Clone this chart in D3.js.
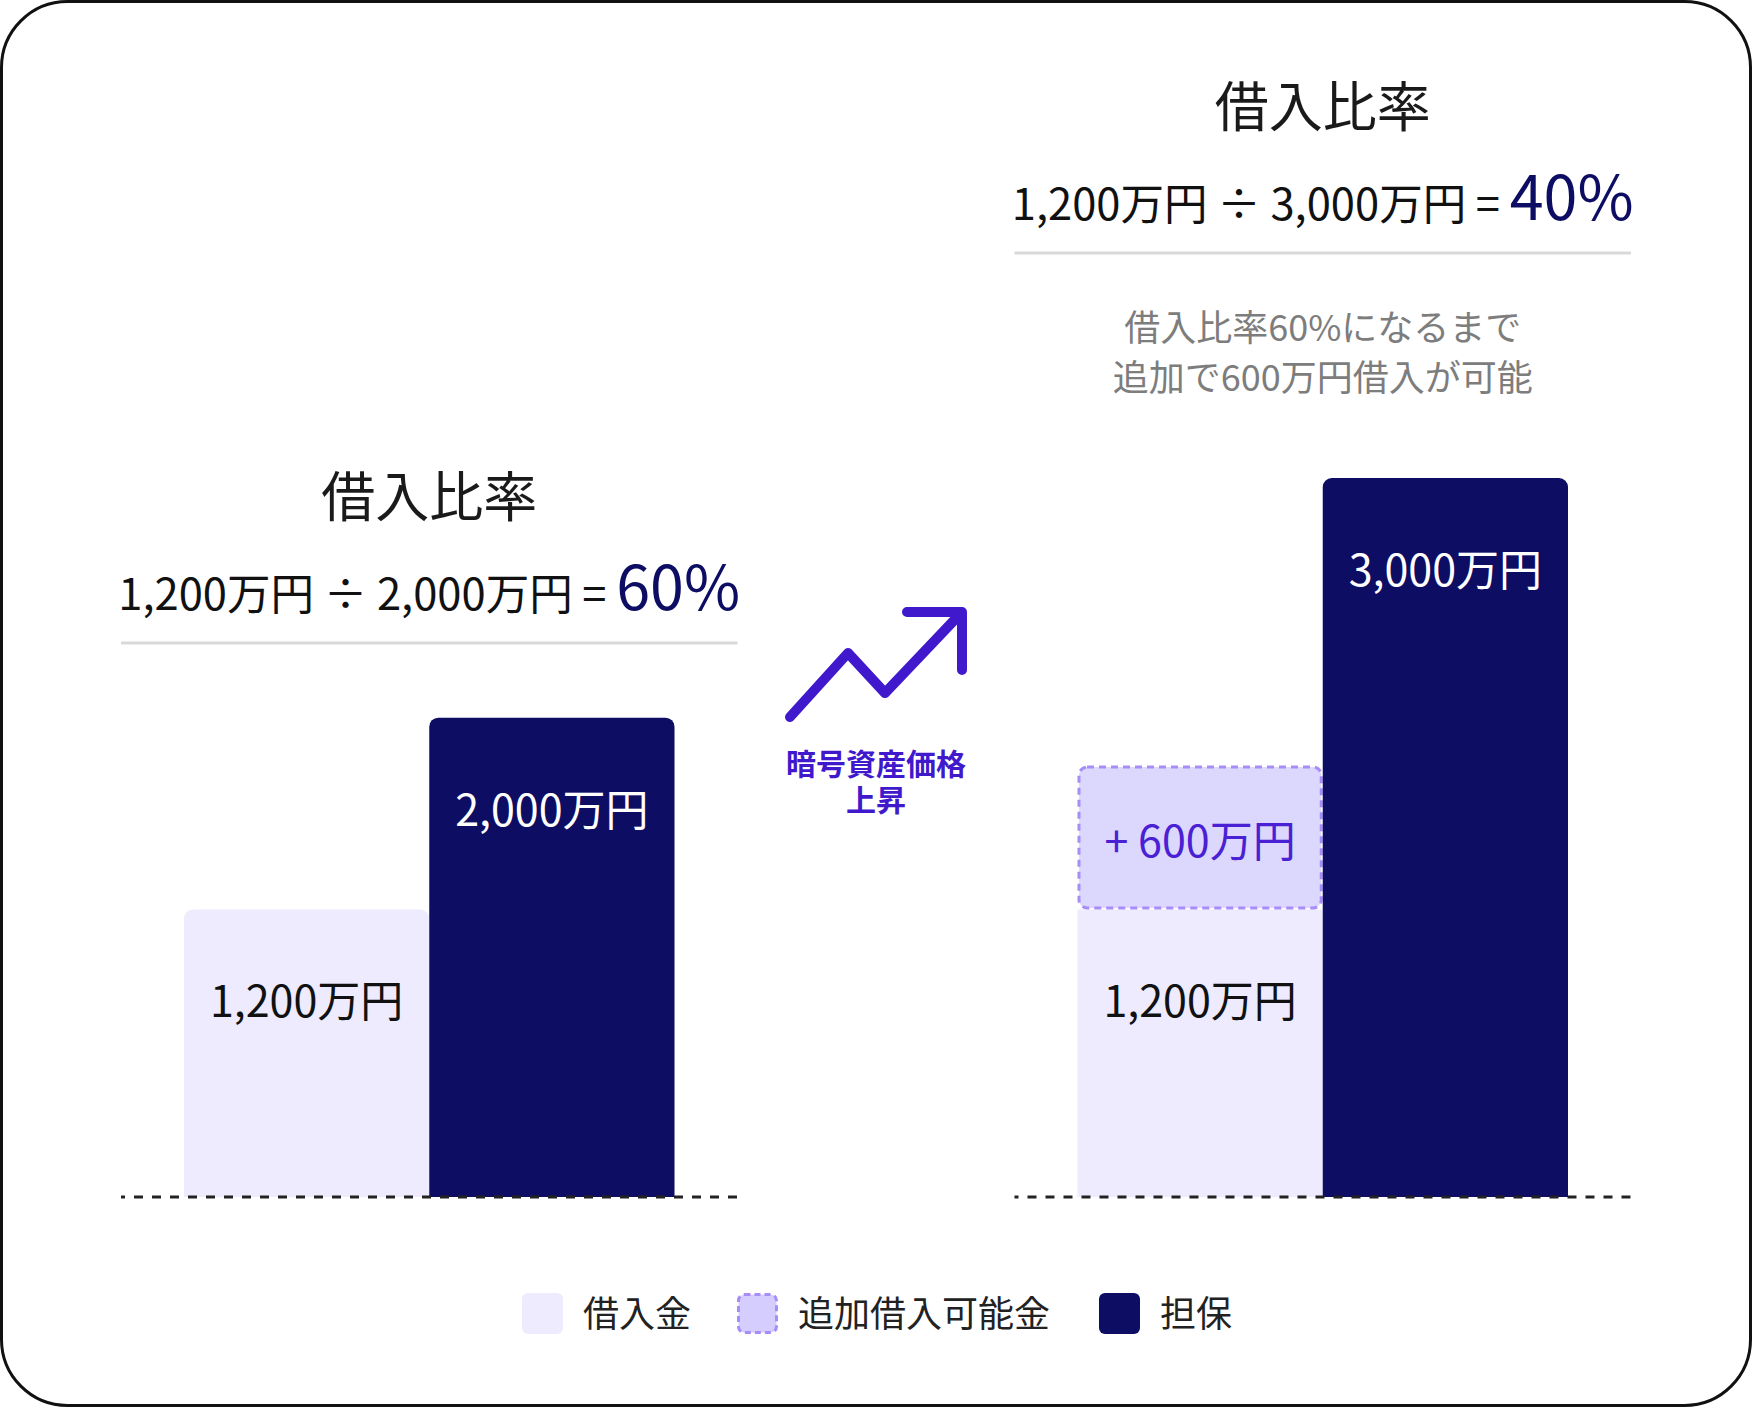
<!DOCTYPE html>
<html>
<head>
<meta charset="utf-8">
<script src="https://cdn.jsdelivr.net/npm/d3@7"></script>
<style>
  body { margin: 0; background: #fff; }
  svg { display: block; }
  text { font-family: "Noto Sans CJK JP", "Noto Sans", sans-serif; }
</style>
</head>
<body>
<div id="chart"></div>
<script>
// data
var panels = ["before", "after"];
var loanValues = [1200, 1200];
var extraValues = [0, 600];
var collateralValues = [2000, 3000];
var headerTitle = "借入比率";
var noteLines = [[], ["借入比率60%になるまで", "追加で600万円借入が可能"]];
var arrowLabel = ["暗号資産価格", "上昇"];
var legendLabels = ["借入金", "追加借入可能金", "担保"];

var W = 1752, H = 1407;
var navy = "#0d0d63", lightBar = "#edebfd", extraFill = "#dcd7fd", extraStroke = "#a68dfa", purple = "#4a20d4";
var fmt = d3.format(",");

var svg = d3.select("#chart").append("svg")
    .attr("width", W)
    .attr("height", H);

// frame
svg.append("rect")
    .attr("x", 1.5).attr("y", 1.5)
    .attr("width", W - 3).attr("height", H - 3)
    .attr("rx", 66)
    .attr("fill", "#fff")
    .attr("stroke", "#111")
    .attr("stroke-width", 3);

var panelX = d3.scaleBand().domain(panels).range([121, 1631]).paddingInner(0.31);
var y = d3.scaleLinear().domain([0, 3000]).range([1197, 478]);
var headerY = [643, 253]; // separator line position per panel

function topRounded(x, y0, w, h, r) {
    return "M" + x + "," + (y0 + h) +
        "V" + (y0 + r) +
        "A" + r + "," + r + " 0 0 1 " + (x + r) + "," + y0 +
        "H" + (x + w - r) +
        "A" + r + "," + r + " 0 0 1 " + (x + w) + "," + (y0 + r) +
        "V" + (y0 + h) + "Z";
}

panels.forEach(function(p, i) {
    var g = svg.append("g");
    var x0 = panelX(p), bw = panelX.bandwidth();
    var cx = x0 + bw / 2;
    var barX = d3.scaleBand().domain(["loan", "collateral"]).range([x0 + 63, x0 + bw - 63]);
    var hy = headerY[i];

    // header
    g.append("text")
        .attr("x", cx).attr("y", hy - 126)
        .attr("text-anchor", "middle")
        .attr("font-size", 54)
        .attr("fill", "#1a1a1a")
        .text(headerTitle);

    var ratio = Math.round(loanValues[i] / collateralValues[i] * 100);
    var f = g.append("text")
        .attr("x", cx).attr("y", hy - 33)
        .attr("text-anchor", "middle")
        .attr("fill", "#111")
        .attr("font-size", 43.5);
    f.append("tspan").text(fmt(loanValues[i]) + "万円 ÷ " + fmt(collateralValues[i]) + "万円 = ");
    f.append("tspan").attr("font-size", 61).attr("fill", navy).text(ratio + "%");

    g.append("line")
        .attr("x1", x0).attr("x2", x0 + bw)
        .attr("y1", hy).attr("y2", hy)
        .attr("stroke", "#d9d9d9")
        .attr("stroke-width", 3);

    noteLines[i].forEach(function(t, j) {
        g.append("text")
            .attr("x", cx).attr("y", hy + 88 + j * 50)
            .attr("text-anchor", "middle")
            .attr("font-size", 36)
            .attr("fill", "#7d7d7d")
            .text(t);
    });

    // bars
    var lx = barX("loan"), cxBar = barX("collateral"), w = barX.bandwidth();
    var loanTop = y(loanValues[i]);
    var hasExtra = extraValues[i] > 0;
    g.append("path")
        .attr("d", topRounded(lx, loanTop, w, y(0) - loanTop, hasExtra ? 0 : 9))
        .attr("fill", lightBar);

    if (hasExtra) {
        var exTop = y(loanValues[i] + extraValues[i]);
        g.append("rect")
            .attr("x", lx + 1.5).attr("y", exTop + 1.5)
            .attr("width", w - 3).attr("height", loanTop - exTop - 3)
            .attr("rx", 8)
            .attr("fill", extraFill)
            .attr("stroke", extraStroke)
            .attr("stroke-width", 3)
            .attr("stroke-dasharray", "7,5");
        g.append("text")
            .attr("x", lx + w / 2).attr("y", (exTop + loanTop) / 2 + 19)
            .attr("text-anchor", "middle")
            .attr("font-size", 43)
            .attr("fill", purple)
            .text("+ " + fmt(extraValues[i]) + "万円");
    }

    var colTop = y(collateralValues[i]);
    g.append("path")
        .attr("d", topRounded(cxBar, colTop, w, y(0) - colTop, 9))
        .attr("fill", navy);

    g.append("text")
        .attr("x", lx + w / 2).attr("y", loanTop + 108)
        .attr("text-anchor", "middle")
        .attr("font-size", 43)
        .attr("fill", "#111")
        .text(fmt(loanValues[i]) + "万円");

    g.append("text")
        .attr("x", cxBar + w / 2).attr("y", colTop + 108)
        .attr("text-anchor", "middle")
        .attr("font-size", 43)
        .attr("fill", "#fff")
        .text(fmt(collateralValues[i]) + "万円");

    // baseline
    g.append("line")
        .attr("x1", x0).attr("x2", x0 + bw)
        .attr("y1", y(0)).attr("y2", y(0))
        .attr("stroke", "#222")
        .attr("stroke-width", 3)
        .attr("stroke-dasharray", "9,9")
        .attr("stroke-dashoffset", 5);
});

// arrow icon between the panels
var arrow = svg.append("g").attr("transform", "translate(790,612)");
arrow.append("path")
    .attr("d", "M0,105L58,41L95,81L172,0M117,0H172V58")
    .attr("fill", "none")
    .attr("stroke", "#4119cc")
    .attr("stroke-width", 10)
    .attr("stroke-linecap", "round")
    .attr("stroke-linejoin", "round");

// two-line label kept in one text element
var lbl = svg.append("text")
    .attr("y", 775)
    .attr("text-anchor", "middle")
    .attr("font-size", 30)
    .attr("font-weight", 700)
    .attr("fill", "#4119cc");
arrowLabel.forEach(function(t, j) {
    lbl.append("tspan")
        .attr("x", 876)
        .attr("dy", j == 0 ? 0 : 36)
        .text(t);
});

// legend
var legendX = [522, 737, 1099];
var legend = svg.append("g");
legendLabels.forEach(function(t, i) {
    var r = legend.append("rect")
        .attr("x", legendX[i]).attr("y", 1293)
        .attr("width", 41).attr("height", 41)
        .attr("rx", 6);
    if (i == 0) r.attr("fill", lightBar);
    if (i == 1) {
        r.attr("x", legendX[i] + 1.5).attr("y", 1294.5)
            .attr("width", 38).attr("height", 38)
            .attr("fill", "#d4cdfd")
            .attr("stroke", extraStroke)
            .attr("stroke-width", 3)
            .attr("stroke-dasharray", "6,4");
    }
    if (i == 2) r.attr("fill", navy);
    legend.append("text")
        .attr("x", legendX[i] + 61).attr("y", 1327)
        .attr("font-size", 36)
        .attr("fill", "#222")
        .text(t);
});
</script>
</body>
</html>
